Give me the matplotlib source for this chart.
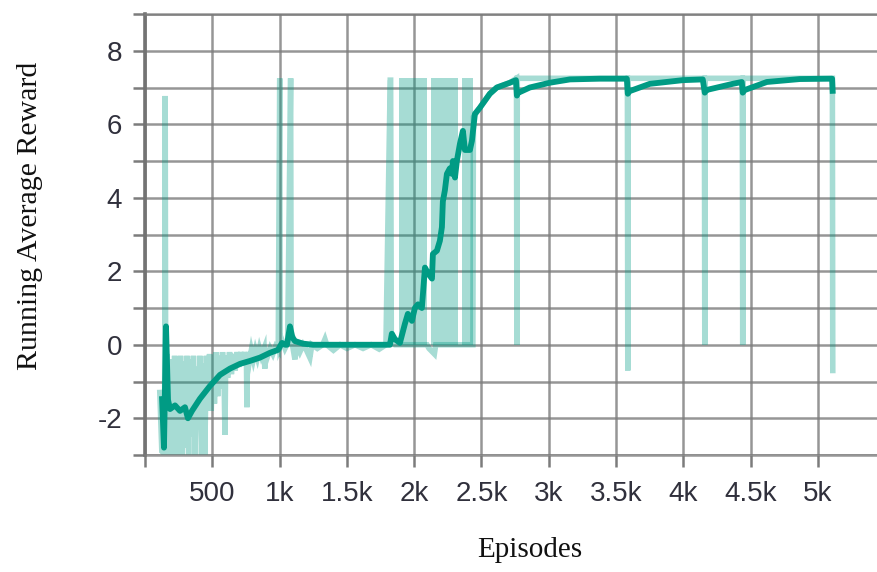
import matplotlib.pyplot as plt
import numpy as np

plt.rcParams['axes.unicode_minus'] = False

# running average reward (bold line)
avg_ep = [126, 141, 156, 171, 186, 223, 260, 297, 319, 349, 408, 483, 557, 631, 706,
          780, 854, 928, 988, 1018, 1040, 1055, 1077, 1095, 1114, 1174, 1248, 1400,
          1600, 1797, 1820, 1834, 1857, 1894, 1931, 1953, 1983, 2005, 2028, 2057,
          2080, 2102, 2132, 2139, 2169, 2191, 2206, 2213, 2228, 2243, 2265, 2280,
          2288, 2303, 2317, 2340, 2362, 2377, 2414, 2429, 2451, 2488, 2562, 2614,
          2711, 2756, 2763, 2770, 2859, 3008, 3157, 3380, 3580, 3587, 3600, 3751,
          3996, 4144, 4159, 4170, 4367, 4434, 4441, 4455, 4620, 4865, 5105, 5110]
avg_val = [-1.4, -2.8, 0.5, -1.5, -1.75, -1.65, -1.8, -1.7, -2.0, -1.8, -1.47, -1.12,
           -0.82, -0.65, -0.52, -0.44, -0.35, -0.22, -0.14, 0.05, 0.0, 0.0, 0.5, 0.2,
           0.1, 0.03, 0.0, 0.0, 0.0, 0.0, 0.0, 0.3, 0.15, 0.05, 0.57, 0.84, 0.65, 1.0,
           1.1, 1.0, 2.1, 1.95, 1.8, 2.47, 2.56, 2.83, 3.2, 3.9, 4.2, 4.65, 4.8, 4.65,
           5.0, 4.55, 5.0, 5.47, 5.82, 5.3, 5.3, 5.55, 6.28, 6.45, 6.83, 7.0, 7.13,
           7.2, 6.78, 6.85, 7.0, 7.13, 7.22, 7.24, 7.24, 6.83, 6.9, 7.1, 7.2, 7.22,
           6.86, 6.93, 7.1, 7.15, 6.86, 6.93, 7.15, 7.23, 7.24, 6.83]

# raw episode reward (faded line)
raw_ep = [110, 125, 138, 146, 150, 154, 165, 172, 182, 190, 200, 210, 220, 232, 242,
          254, 264, 276, 288, 300, 312, 324, 336, 348, 360, 372, 384, 396, 408, 420,
          432, 444, 456, 468, 480, 492, 504, 516, 528, 540, 552, 564, 576, 588, 594,
          600, 614, 628, 642, 656, 670, 684, 698, 712, 726, 740, 754, 757, 762, 776,
          790, 805, 820, 835, 850, 865, 885, 890, 896, 912, 930, 950, 970, 990, 1001,
          1004, 1020, 1040, 1060, 1082, 1086, 1100, 1114, 1125, 1150, 1175, 1200,
          1225, 1240, 1280, 1320, 1337, 1350, 1400, 1450, 1500, 1560, 1620, 1680,
          1740, 1790, 1822, 1825, 1830, 1860, 1887, 2000, 2095, 2110, 2150, 2160,
          2325, 2340, 2436, 2440, 2488, 2562, 2614, 2711, 2760, 2763, 2766, 3584,
          3587, 3590, 4156, 4159, 4162, 4438, 4441, 4444, 5107, 5110]
raw_val = [-1.3, -2.9, -2.95, -1.6, 6.77, -1.7, -0.25, -3.0, -0.8, -3.0, -0.4, -2.9,
           -0.3, -3.0, -0.35, -2.6, -0.3, -3.0, -0.45, -2.8, -0.3, -3.0, -0.4, -2.5,
           -0.3, -3.0, -0.6, -2.2, -0.3, -3.0, -0.5, -3.0, -0.3, -1.8, -0.25, -1.8,
           -0.3, -1.6, -0.2, -1.4, -0.3, -1.2, -0.2, -1.0, -2.45, -0.3, -0.9, -0.2,
           -0.8, -0.25, -0.7, -0.2, -0.6, -0.2, -0.55, -0.2, -0.5, -1.7, -0.2, -0.45,
           -0.15, -0.4, -0.15, -0.35, -0.1, -0.3, -0.1, -0.65, -0.1, -0.3, -0.1,
           -0.25, -0.05, -0.15, 7.25, -0.05, 0.1, -0.1, 0.05, 7.25, 0.2, -0.1, -0.4,
           0.0, -0.2, 0.0, -0.15, -0.35, 0.0, -0.1, 0.0, 0.15, 0.0, -0.15, 0.0, -0.1,
           0.0, -0.1, 0.0, -0.12, 0.0, 7.2, 7.2, 0.2, 0.0, 0.0, 0.0, 0.0, -0.1, -0.25,
           0.0, 0.0, 0.0, 0.0, 6.2, 6.45, 6.83, 7.0, 7.13, 7.25, 0.0, 7.25, 7.25,
           -0.7, 7.25, 7.25, 0.0, 7.25, 7.25, 0.0, 7.25, 7.25, -0.7]

# dense stretches where the raw reward flips between 0 and max every episode
band_start = [1887, 2124, 2354]
band_end = [2095, 2325, 2436]
band_low = [0.0, 0.0, 0.0]
band_high = [7.25, 7.25, 7.25]

x_ticks = [0, 500, 1000, 1500, 2000, 2500, 3000, 3500, 4000, 4500, 5000]
x_tick_labels = ['', '500', '1k', '1.5k', '2k', '2.5k', '3k', '3.5k', '4k', '4.5k', '5k']
y_major = [-2, 0, 2, 4, 6, 8]
y_minor = [-3, -1, 1, 3, 5, 7, 9]

teal = '#009b84'
grid_col = '#7c7c7c'

fig = plt.figure(figsize=(8.78, 5.72), dpi=100)
ax = fig.add_axes([145 / 878, 117 / 572, 733 / 878, 441 / 572])

for s, e, lo, hi in zip(band_start, band_end, band_low, band_high):
    ax.fill_between([s, e], [lo, lo], [hi, hi], color=teal, alpha=0.35, lw=0, zorder=2)
ax.plot(raw_ep, raw_val, color=teal, alpha=0.35, lw=4, zorder=2,
        solid_joinstyle='miter')
ax.plot(avg_ep, avg_val, color=teal, lw=4.2, zorder=3,
        solid_joinstyle='round', solid_capstyle='butt')

ax.set_xlim(0, 5446)
ax.set_ylim(-3, 9)
ax.set_xticks(x_ticks)
ax.set_xticklabels(x_tick_labels)
ax.set_yticks(y_major)
ax.set_yticks(y_minor, minor=True)

ax.grid(True, which='both', color=grid_col, lw=1.8, alpha=0.8, zorder=1)
ax.set_axisbelow(True)

ax.spines['right'].set_visible(False)
for side in ['top', 'bottom']:
    ax.spines[side].set_color(grid_col)
    ax.spines[side].set_alpha(0.8)
    ax.spines[side].set_linewidth(1.8)
ax.spines['left'].set_color('#737373')
ax.spines['left'].set_linewidth(2.6)

ax.tick_params(axis='both', which='both', length=8.6, width=1.8, color=grid_col,
               labelsize=20, labelcolor='#30303c')
ax.tick_params(axis='x', pad=10)
ax.tick_params(axis='y', pad=8)
for lab in ax.get_xticklabels() + ax.get_yticklabels():
    lab.set_family(['Liberation Sans', 'DejaVu Sans'])

fig.text(530 / 878, 1 - 550 / 572, 'Episodes', ha='center', va='center',
         fontsize=21, family=['Liberation Serif', 'DejaVu Serif'], color='#111111')
fig.text(30 / 878, 1 - 216 / 572, 'Running Average Reward', ha='center', va='center',
         rotation=90, fontsize=21.5, family=['Liberation Serif', 'DejaVu Serif'],
         color='#111111')

fig.savefig('out.png', dpi=100)
